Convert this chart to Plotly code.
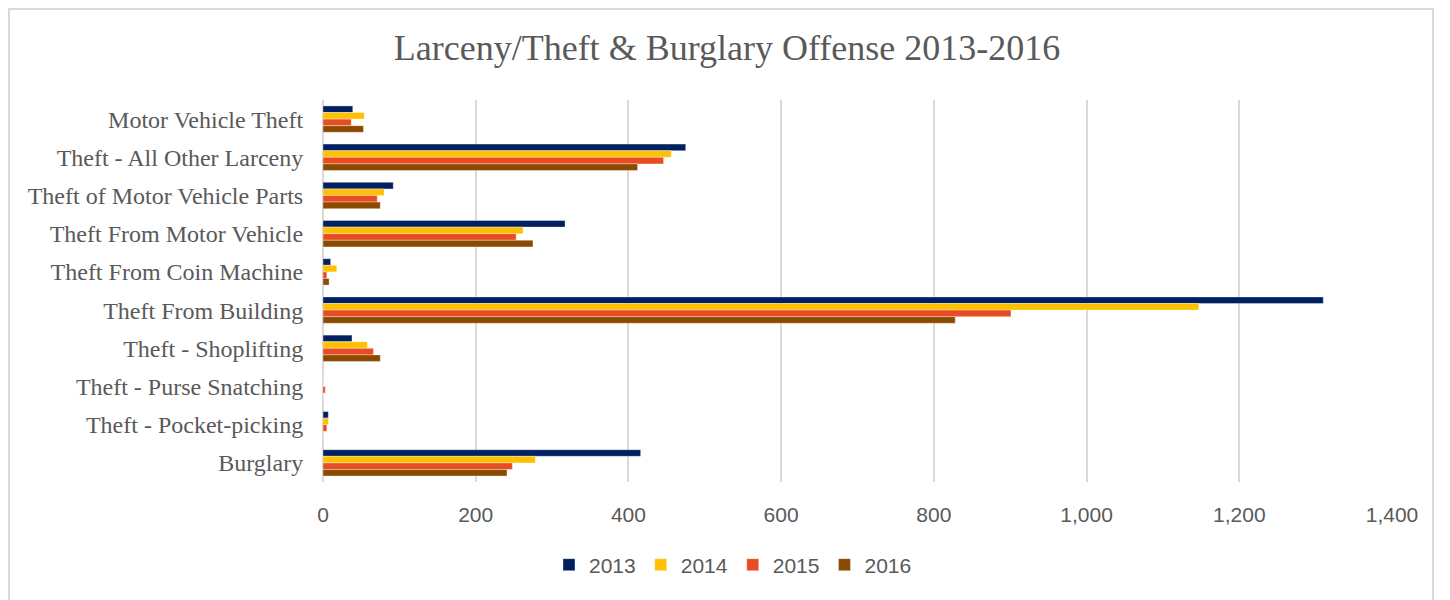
import plotly.graph_objects as go

categories = [
    "Motor Vehicle Theft",
    "Theft - All Other Larceny",
    "Theft of Motor Vehicle Parts",
    "Theft From Motor Vehicle",
    "Theft From Coin Machine",
    "Theft From Building",
    "Theft - Shoplifting",
    "Theft - Purse Snatching",
    "Theft - Pocket-picking",
    "Burglary",
]
years = ["2013", "2014", "2015", "2016"]
v2013 = [39, 475, 92, 317, 10, 1310, 38, 0, 7, 416]
v2014 = [54, 456, 80, 262, 18, 1147, 58, 0, 7, 278]
v2015 = [37, 446, 71, 253, 5, 901, 66, 3, 5, 248]
v2016 = [53, 412, 75, 275, 8, 828, 75, 0, 0, 241]
colors = ["#002060", "#FFC000", "#E84C22", "#8B4A00"]
x_ticks = [0, 200, 400, 600, 800, 1000, 1200, 1400]
x_tick_labels = ["0", "200", "400", "600", "800", "1,000", "1,200", "1,400"]

fig = go.Figure()
for yr, vals, col in zip(years, [v2013, v2014, v2015, v2016], colors):
    fig.add_trace(go.Bar(
        y=categories, x=vals, name=yr, orientation="h",
        marker=dict(color=col, line=dict(color="rgba(255,255,255,0.6)", width=0.6)),
    ))

# the page body has an 8px margin, so the figure starts at (8, 8) in the window
OFF = 8
W, H = 1450 - OFF, 600 - OFF
ml, mr, mt, mb = 323 - OFF, 1450 - 1392, 100 - OFF, 600 - 482
pw, ph = W - ml - mr, H - mt - mb

def px_x(p):
    return (p - OFF - ml) / pw

def px_y(p):
    return (H - mb - (p - OFF)) / ph

fig.update_layout(
    width=W, height=H,
    margin=dict(l=ml, r=mr, t=mt, b=mb),
    paper_bgcolor="white", plot_bgcolor="white",
    barmode="group", bargap=0.31, bargroupgap=0,
    title=dict(
        text="Larceny/Theft &amp; Burglary Offense 2013-2016",
        x=(727 - OFF) / W, xref="container", xanchor="center",
        y=1 - (47 - OFF) / H, yref="container", yanchor="middle",
        font=dict(family="Liberation Serif, serif", size=36, color="#595959"),
    ),
    xaxis=dict(
        range=[0, 1400], tickvals=x_ticks, ticktext=x_tick_labels,
        showgrid=True, gridcolor="#D9D9D9", gridwidth=1.5,
        zeroline=True, zerolinecolor="#D9D9D9", zerolinewidth=1.5,
        tickfont=dict(family="Liberation Sans, Arial, sans-serif", size=21, color="#595959"),
        ticks="outside", ticklen=14, tickcolor="rgba(0,0,0,0)",
        fixedrange=True, automargin=False,
    ),
    yaxis=dict(
        autorange="reversed", showgrid=False,
        tickfont=dict(family="Liberation Serif, serif", size=24, color="#595959"),
        ticks="outside", ticklen=14, tickcolor="rgba(0,0,0,0)",
        fixedrange=True, automargin=False,
    ),
    legend=dict(
        orientation="h", x=px_x(733), xref="paper", xanchor="center",
        y=px_y(565), yanchor="middle",
        font=dict(family="Liberation Sans, Arial, sans-serif", size=21, color="#595959"),
        itemwidth=30, traceorder="normal",
    ),
    shapes=[dict(
        type="rect", xref="paper", yref="paper",
        x0=px_x(9), x1=px_x(1433), y0=px_y(603), y1=px_y(9),
        line=dict(color="#D9D9D9", width=2), fillcolor="rgba(0,0,0,0)", layer="below",
    )],
)

fig.write_html("out.html", config={"displayModeBar": False})
